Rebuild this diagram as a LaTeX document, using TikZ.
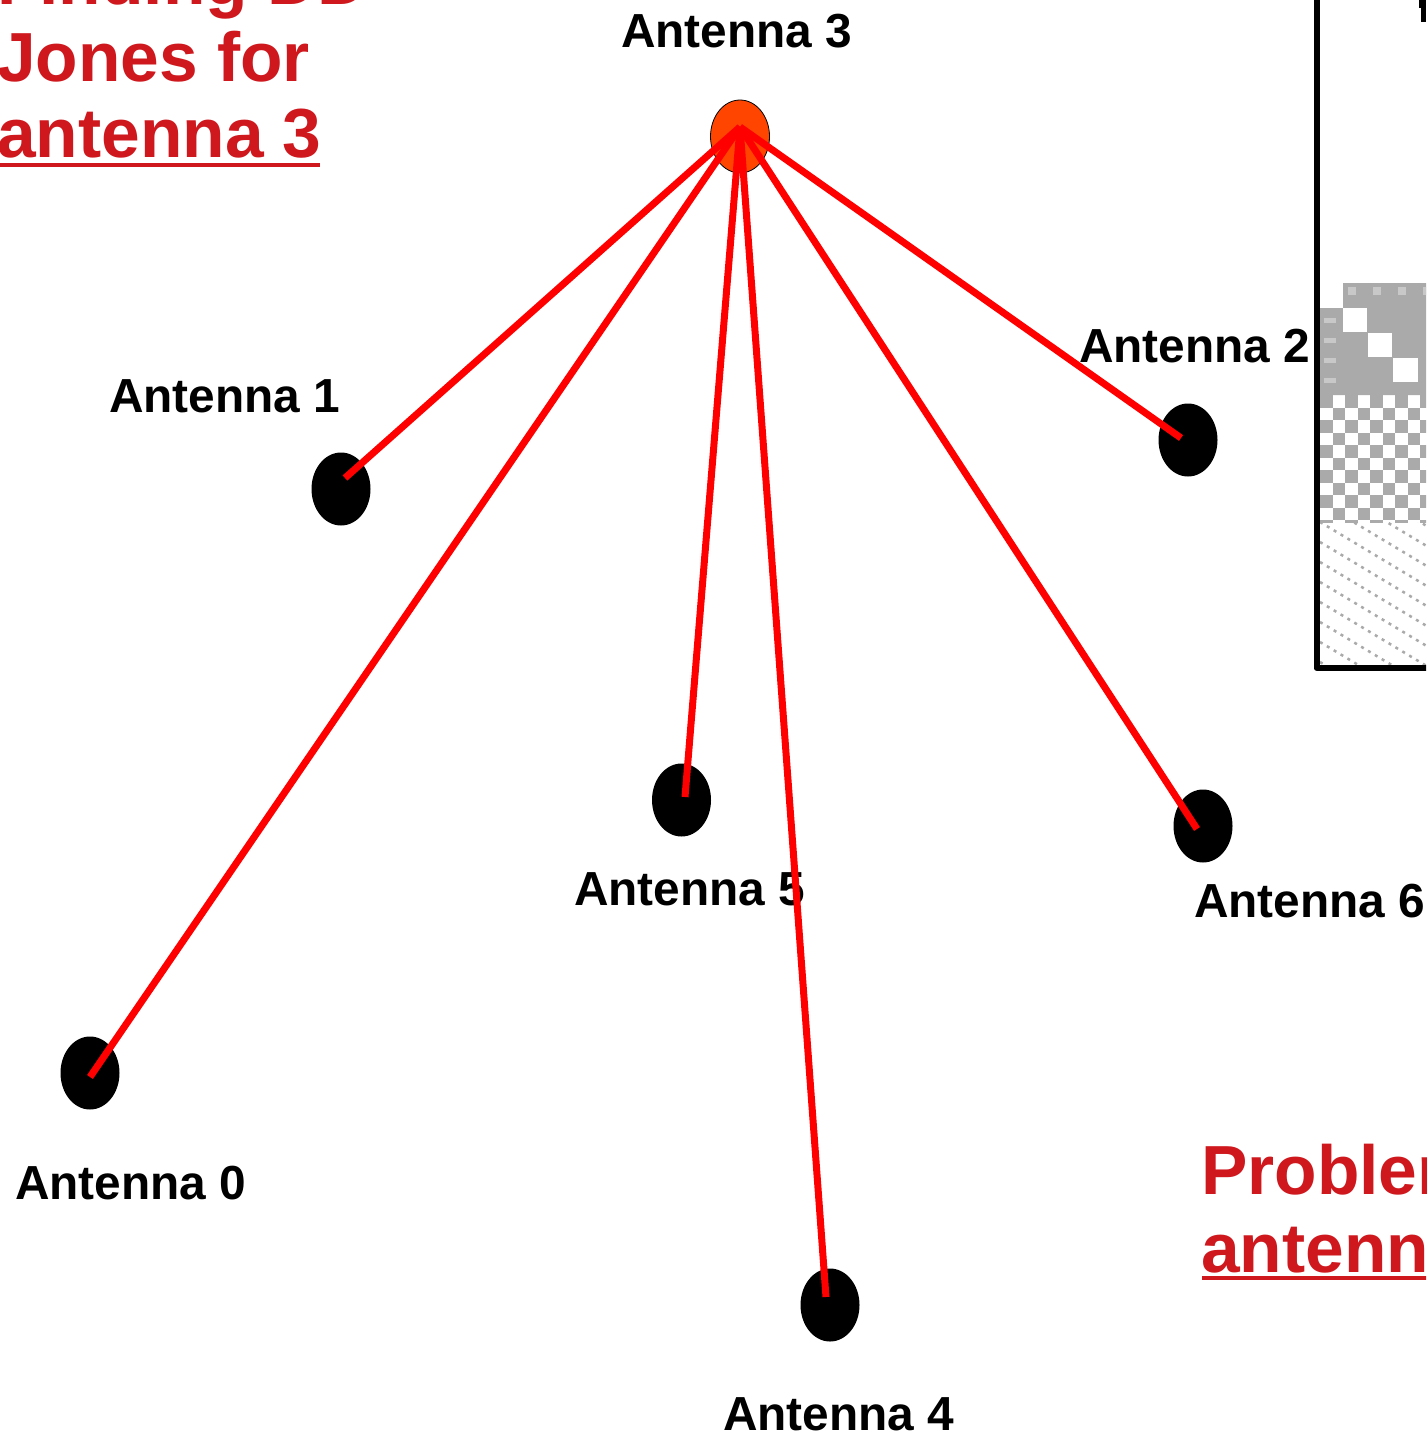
\documentclass[tikz,border=0pt]{standalone}
\usepackage{fontspec}
\setmainfont{Liberation Sans}
\usetikzlibrary{calc,shapes.geometric}
\definecolor{titlered}{HTML}{CE181E}
\definecolor{hubfill}{HTML}{FF4500}
\definecolor{linkred}{HTML}{FF0000}
\definecolor{matgray}{HTML}{AAAAAA}
\definecolor{matlight}{HTML}{C8C8C8}
\begin{document}
\begin{tikzpicture}[x=1pt,y=-1pt,
  antdot/.style={ellipse, minimum width=59pt, minimum height=73pt, inner sep=0pt, fill=black},
  lbl/.style={font=\fontsize{47.8}{57}\selectfont\bfseries, anchor=base west, inner sep=0pt},
  bigtitle/.style={font=\fontsize{69.5}{80}\selectfont\bfseries, text=titlered, anchor=base west, inner sep=0pt},
  link/.style={draw=linkred, line width=7pt}]
\clip (0,0) rectangle (1426,1434);
\fill[white] (0,0) rectangle (1426,1434);

% --- matrix figure (partly visible, right edge) ---
\fill[matgray] (1343,283) -- (1430,283) -- (1430,395) -- (1320,395) -- (1320,308) -- (1343,308) -- cycle;
\foreach \i in {0,...,4} {
  \fill[matlight] (1348+25*\i,287) rectangle ++(8,8);
}
\foreach \j in {0,...,3} {
  \fill[matlight] (1324,318+20*\j) rectangle ++(12,5);
}
\fill[white] (1343,308) rectangle (1367,332);
\fill[white] (1368,333) rectangle (1392,357);
\fill[white] (1393,358) rectangle (1418,382);
\begin{scope}
  \clip (1320,395) rectangle (1426,522);
  \foreach \i in {0,...,4} {
    \foreach \j in {0,...,5} {
      \fill[matgray] (1320+25*\i,395+25*\j) rectangle ++(12.5,12.5);
      \fill[matgray] (1332.5+25*\i,407.5+25*\j) rectangle ++(12.5,12.5);
    }
  }
\end{scope}
\begin{scope}
  \clip (1320,522) rectangle (1426,664);
  \foreach \k in {-5,...,8} {
    \draw[matgray, line width=2.5pt, dash pattern=on 3pt off 5pt] (1320,522+20*\k) -- ++(115,69);
  }
\end{scope}
\draw[black, line width=6pt, line join=round] (1316.5,-10) -- (1316.5,668) -- (1440,668);
\fill[black] (1419,0) rectangle (1426,8);
\fill[black] (1421,8) rectangle (1426,22);

% --- titles ---
\node[bigtitle] (t1) at (-3,5) {Finding DD};
\node[bigtitle] (t2) at (-3,82) {Jones for};
\node[bigtitle] (t3) at (-3,158) {antenna 3};
\fill[titlered] (0,163) rectangle (320,167);
\node[bigtitle] (p1) at (1201,1194) {Problem};
\node[bigtitle] (p2) at (1201,1272) {antenna};
\fill[titlered] (1202,1276) rectangle (1430,1280);

% --- antennas ---
\node[antdot, fill=hubfill, draw=black, line width=0.8pt] (a3) at (740,136.5) {};
\node[antdot] (a1) at (341,489) {};
\node[antdot] (a2) at (1188,440) {};
\node[antdot] (a5) at (681.5,800) {};
\node[antdot] (a6) at (1203,826) {};
\node[antdot] (a0) at (90,1073) {};
\node[antdot] (a4) at (830,1305) {};

% --- labels ---
\node[lbl] (l3) at (621,48) {Antenna 3};
\node[lbl] (l1) at (109,412) {Antenna 1};
\node[lbl] (l2) at (1079,362) {Antenna 2};
\node[lbl] (l5) at (574,905) {Antenna 5};
\node[lbl] (l6) at (1194,917) {Antenna 6};
\node[lbl] (l0) at (15,1199) {Antenna 0};
\node[lbl] (l4) at (723,1430) {Antenna 4};

% --- baselines from antenna 3 ---
\coordinate (hub) at ($(a3)+(0,-9.5)$);
\draw[link] (hub) -- ($(a1)+(4,-11)$);
\draw[link] (hub) -- ($(a0)+(0,4)$);
\draw[link] (hub) -- ($(a5)+(3.5,-3)$);
\draw[link] (hub) -- ($(a4)+(-4,-8)$);
\draw[link] (hub) -- ($(a6)+(-6,3)$);
\draw[link] (hub) -- ($(a2)+(-7,-2)$);
\end{tikzpicture}
\end{document}
